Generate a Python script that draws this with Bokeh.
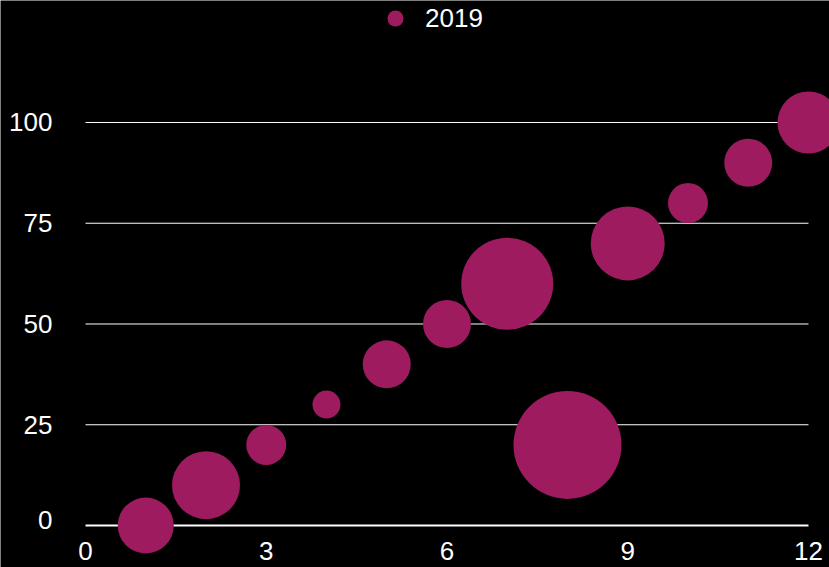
from bokeh.plotting import figure
from bokeh.models import Range1d, Legend, LegendItem, ColumnDataSource
from bokeh.core.properties import value
from bokeh.embed import file_html
from bokeh.resources import INLINE

# ---- data ----
series_name = "2019"
x_vals = [1, 2, 3, 4, 5, 6, 7, 8, 9, 10, 11, 12]
y_vals = [0, 10, 20, 30, 40, 50, 60, 20, 70, 80, 90, 100]
r_vals = [28, 34, 20, 14, 24, 24, 46, 54, 37, 20, 24, 31]
x_ticks = [0, 3, 6, 9, 12]
y_ticks = [0, 25, 50, 75, 100]

BUBBLE = "#9d1b5e"
FONT = "Liberation Sans"
FS = "26px"

p = figure(width=829, height=567, output_backend="svg", toolbar_location=None,
           x_axis_type=None, y_axis_type=None,
           x_range=Range1d(-1.4108, 12.349), y_range=Range1d(-10.42, 130.27),
           background_fill_color="black", border_fill_color="black",
           min_border=0, outline_line_color=None)

# horizontal grid lines
p.segment(x0=[x_ticks[0]] * len(y_ticks), x1=[x_ticks[-1]] * len(y_ticks),
          y0=y_ticks, y1=y_ticks, line_color="white",
          line_width=[2 if t == y_ticks[0] else 1 for t in y_ticks])

# bubbles
src = ColumnDataSource(dict(x=x_vals, y=y_vals, d=[2 * r for r in r_vals]))
rend = p.scatter("x", "y", size="d", source=src, fill_color=BUBBLE, line_color=None)

# y tick labels
p.text(x=[x_ticks[0]] * len(y_ticks), y=y_ticks, text=[str(t) for t in y_ticks],
       text_align="right", text_baseline="middle", x_offset=-33,
       y_offset=[-6 if t == y_ticks[0] else 0 for t in y_ticks],
       text_color="white", text_font=value(FONT), text_font_size=FS)
# x tick labels
p.text(x=x_ticks, y=[y_ticks[0]] * len(x_ticks), text=[str(t) for t in x_ticks],
       text_align="center", text_baseline="top", y_offset=16,
       text_color="white", text_font=value(FONT), text_font_size=FS)

legend = Legend(items=[LegendItem(label=series_name, renderers=[rend])],
                location=(375, 529), orientation="horizontal",
                glyph_width=40, glyph_height=40, label_standoff=10,
                padding=0, margin=0, border_line_color=None,
                background_fill_alpha=0, label_text_color="white",
                label_text_font=FONT, label_text_font_size=FS)
p.add_layout(legend, "center")

open("out.html", "w").write(file_html(p, INLINE))
